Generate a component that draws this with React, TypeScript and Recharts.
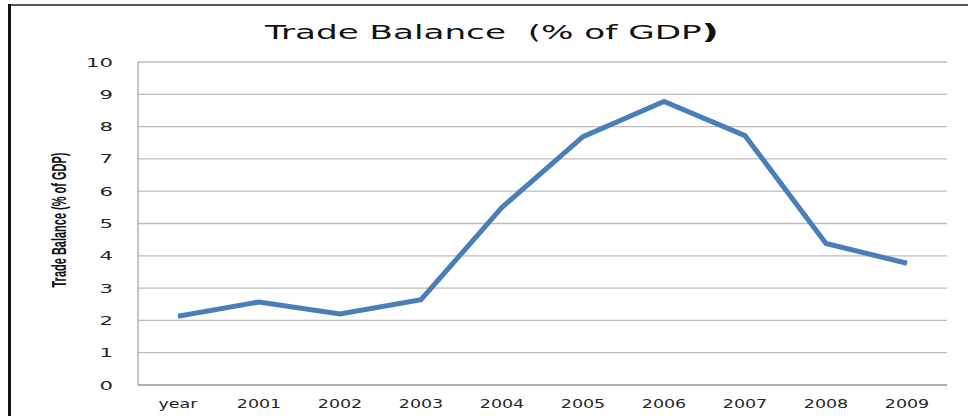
import { LineChart, Line, XAxis, YAxis, CartesianGrid } from 'recharts'

const years = ['year', '2001', '2002', '2003', '2004', '2005', '2006', '2007', '2008', '2009']
const tradeBalance = [2.13, 2.57, 2.2, 2.64, 5.5, 7.69, 8.78, 7.72, 4.38, 3.77]
const yTicks = [0, 1, 2, 3, 4, 5, 6, 7, 8, 9, 10]

const data = years.map((y, i) => ({ year: y, value: tradeBalance[i] }))

const FONT = '"DejaVu Sans", Verdana, sans-serif'

function XTick({ x, y, payload }: any) {
  return (
    <text
      transform={`translate(${x},${y + 23}) scale(1.4,1)`}
      textAnchor="middle"
      fontFamily={FONT}
      fontSize={12.5}
      fill="#262626"
    >
      {payload.value}
    </text>
  )
}

function YTick({ x, y, payload }: any) {
  return (
    <text
      transform={`translate(${x - 25},${y + 4.5}) scale(1.85,1)`}
      textAnchor="end"
      fontFamily={FONT}
      fontSize={11.5}
      fill="#262626"
    >
      {payload.value}
    </text>
  )
}

export default function App() {
  return (
    <div style={{ position: 'absolute', left: 0, top: 0, width: 968, height: 416, background: '#fff' }}>
      <LineChart width={968} height={416} data={data} margin={{ top: 62, right: 21, bottom: 0, left: 78 }}>
        <CartesianGrid vertical={false} stroke="#bdbdbd" strokeWidth={1.3} />
        <XAxis
          dataKey="year"
          height={31}
          padding={{ left: 40, right: 40 }}
          tickLine={false}
          tickSize={0}
          tickMargin={0}
          axisLine={{ stroke: '#a6a6a6', strokeWidth: 1.3 }}
          tick={<XTick />}
          interval={0}
        />
        <YAxis
          width={60}
          domain={[0, 10]}
          ticks={yTicks}
          tickLine={false}
          tickSize={0}
          tickMargin={0}
          axisLine={{ stroke: '#a6a6a6', strokeWidth: 1.3 }}
          tick={<YTick />}
        />
        <Line
          type="linear"
          dataKey="value"
          stroke="#4a7ebb"
          strokeWidth={5}
          dot={false}
          isAnimationActive={false}
        />
      </LineChart>
      <svg
        width={968}
        height={416}
        style={{ position: 'absolute', left: 0, top: 0, pointerEvents: 'none' }}
      >
        <line x1={8} y1={5} x2={968} y2={5} stroke="#555" strokeWidth={2} />
        <line x1={9.5} y1={4} x2={9.5} y2={416} stroke="#111" strokeWidth={3} />
        <text
          transform="translate(492,39) scale(1.8,1)"
          textAnchor="middle"
          fontFamily={FONT}
          fontSize={19}
          fill="#111"
        >
          {'Trade Balance\u00a0\u00a0(% of GDP'}
          <tspan fontWeight="bold" fontSize={21}>)</tspan>
        </text>
        <text
          transform="translate(66,220) scale(1.9,1) rotate(-90)"
          textAnchor="middle"
          fontFamily='"Liberation Sans", Arial, sans-serif'
          fontWeight="bold"
          fontSize={11}
          fill="#111"
        >
          Trade Balance (% of GDP)
        </text>
      </svg>
    </div>
  )
}
